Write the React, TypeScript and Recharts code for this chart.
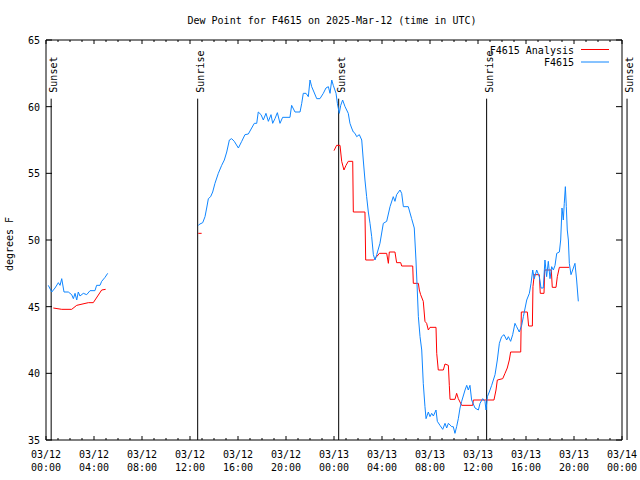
import React from 'react';
import { LineChart, Line, XAxis, YAxis, ReferenceLine } from 'recharts';

// hours since 03/12 00:00 UTC, dew point in F (null = gap in record)
const obsHours = [
  0.19, 0.48, 0.75, 1.03, 1.17, 1.31, 1.5, 1.86, 2.14, 2.28, 2.42, 2.56, 2.69, 2.83, 3.11, 3.39, 3.67, 4.08, 4.22, 4.5,
  4.64, 4.92, 5.14, 8.9,
  12.69, 12.83, 13.06, 13.25, 13.39, 13.53, 13.72, 13.89, 14.08, 14.36, 14.64, 14.86, 15.06, 15.28, 15.47, 15.69, 16.03,
  16.31, 16.58, 16.86, 17.14, 17.36, 17.56, 17.69, 17.92, 18.11, 18.33, 18.53, 18.75, 18.89, 19.08, 19.28, 19.5, 19.72,
  20.33, 20.47, 20.75, 21.17, 21.31, 21.44, 21.67, 21.86, 22.0, 22.14, 22.33, 22.56, 22.83, 23.11, 23.33, 23.53, 23.67,
  23.81, 23.94, 24.17, 24.28, 24.44, 24.56, 24.72, 24.92, 25.19, 25.33, 25.47, 25.61, 25.75, 25.89, 26.11, 26.31, 26.44,
  26.58, 26.72, 26.86, 27.0, 27.14, 27.28, 27.42, 27.56, 27.83, 28.11, 28.39, 28.67, 28.94, 29.08, 29.22, 29.5, 29.64,
  29.78, 30.19, 30.47, 30.69, 30.83, 30.94, 31.03, 31.17, 31.31, 31.44, 31.58, 31.67, 31.86, 32.0, 32.14, 32.28, 32.5,
  32.61, 32.83, 33.06, 33.25, 33.39, 33.53, 33.81, 33.94, 34.08, 34.22, 34.36, 34.5, 34.64, 34.92, 35.06, 35.19, 35.33,
  35.47, 35.75, 36.03, 36.17, 36.39, 36.58, 36.67, 36.78, 36.94, 37.14, 37.42, 37.61, 37.78, 37.97, 38.17, 38.39, 38.53,
  38.72, 38.89, 39.08, 39.22, 39.44, 39.64, 39.78, 40.06, 40.28, 40.42, 40.56, 40.69, 40.89, 41.11, 41.25, 41.44, 41.58,
  41.72, 41.86, 42.0, 42.14, 42.28, 42.42, 42.56, 42.78, 42.89, 43.0, 43.11, 43.19, 43.28, 43.36, 43.44, 43.53, 43.61,
  43.75, 43.89, 44.08, 44.22, 44.36,
];
const obsDewpt = [
  46.6, 46.1, 46.4, 46.8, 46.6, 47.1, 46.1, 46.1, 45.9, 45.6, 46.0, 45.5, 46.1, 45.8, 46.0, 45.9, 46.2, 46.2, 46.6, 46.6,
  46.9, 47.2, 47.5, null,
  51.1, 51.2, 51.3, 51.75, 52.4, 53.1, 53.25, 53.6, 54.25, 55.0, 55.6, 56.0, 56.6, 57.5, 57.6, 57.4, 56.9,
  57.4, 57.9, 57.95, 58.4, 58.75, 58.75, 59.6, 59.4, 59.0, 59.5, 58.9, 59.4, 58.75, 59.1, 59.55, 58.75, 59.2,
  59.2, 60.1, 59.6, 59.6, 60.25, 61.0, 61.0, 60.75, 62.0, 61.5, 61.1, 60.6, 60.6, 61.0, 61.4, 61.5, 61.0,
  62.0, 61.6, 61.0, 60.25, 59.5, 60.1, 60.5, 60.0, 59.5, 58.75, 58.4, 58.1, 58.0, 57.75, 57.9, 57.5, 56.0,
  54.5, 53.25, 52.1, 51.25, 50.25, 48.9, 48.5, 48.9, 49.75, 51.25, 51.4, 52.5, 53.25, 52.9, 53.4, 53.75, 53.5,
  52.5, 52.5, 51.6, 50.9, 48.5, 46.25, 44.25, 42.75, 41.75, 39.25, 37.5, 36.6, 37.1, 36.75, 37.0, 36.8, 37.25,
  36.4, 36.1, 35.8, 36.25, 35.9, 36.25, 36.0, 36.0, 35.5, 36.0, 36.6, 37.4, 37.9, 38.75, 39.1, 38.75, 39.1,
  38.0, 37.4, 37.25, 37.75, 38.1, 37.9, 37.25, 38.25, 38.6, 39.1, 39.9, 41.0, 42.25, 42.75, 42.9, 42.5, 42.75,
  42.4, 42.9, 43.75, 43.5, 43.1, 43.6, 44.25, 45.5, 46.0, 46.75, 47.75, 47.1, 47.75, 47.25, 46.4, 46.4, 48.5,
  47.25, 48.4, 47.1, 48.0, 47.75, 48.1, 49.0, 49.1, 50.0, 52.4, 51.5, 52.75, 54.0, 52.5, 50.75, 50.0, 48.25,
  47.4, 47.75, 48.25, 47.0, 45.4,
];

const anaHours = [
  0.61, 1.31, 2.14, 2.56, 3.53, 3.94, 4.64, 4.97, 8.9,
  12.69, 12.97, 18.0,
  24.0, 24.22, 24.5, 24.64, 24.83, 25.0, 25.19, 25.56, 25.61, 26.58, 26.64, 27.28, 27.56, 27.78, 28.39, 28.53, 28.61,
  29.08, 29.22, 29.56, 29.64, 30.56, 30.61, 31.03, 31.11, 31.22, 31.44, 31.58, 31.72, 31.86, 32.0, 32.5, 32.56, 32.69,
  33.11, 33.25, 33.53, 33.61, 33.67, 34.08, 34.22, 34.36, 34.64, 35.56, 35.61, 37.33, 37.5, 37.61, 38.06, 38.25, 38.44,
  38.61, 38.72, 39.56, 39.61, 40.11, 40.22, 40.53, 40.58, 40.69, 41.11, 41.19, 41.5, 41.56, 42.11, 42.19, 42.5, 42.61,
  42.78, 43.61,
];
const anaDewpt = [
  44.9, 44.8, 44.8, 45.1, 45.3, 45.3, 46.25, 46.3, null,
  50.5, 50.5, null,
  56.7, 57.1, 57.1, 55.9, 55.25, 55.6, 55.9, 55.9, 52.1, 52.1, 48.5, 48.5, 48.75, 49.0, 49.0, 48.25, 49.1,
  49.1, 48.3, 48.3, 48.05, 48.05, 46.75, 46.75, 46.25, 45.9, 45.4, 43.9, 43.75, 43.25, 43.45, 43.45, 41.5, 40.25,
  40.25, 40.7, 40.6, 39.1, 38.05, 38.05, 38.5, 38.1, 37.6, 37.6, 38.0, 38.0, 38.75, 39.5, 39.6, 40.0, 40.4,
  41.0, 41.6, 41.6, 44.6, 44.6, 43.55, 43.55, 46.5, 47.4, 47.4, 46.0, 46.0, 47.75, 47.75, 46.45, 46.45, 47.25,
  47.95, 47.95,
];

const sunHours = [0.43, 12.64, 24.39, 36.72, 48.42];
const sunLabels = ['Sunset', 'Sunrise', 'Sunset', 'Sunrise', 'Sunset'];

const yTicks = [35, 40, 45, 50, 55, 60, 65];
const hourTicks = Array.from({ length: 49 }, (_, i) => i);

const FONT = '"DejaVu Sans Mono", monospace';

const obsData = obsHours.map((h, i) => ({ h, v: obsDewpt[i] }));
const anaData = anaHours.map((h, i) => ({ h, v: anaDewpt[i] }));

function dayLabel(h: number) {
  const day = h < 24 ? '03/12' : h < 48 ? '03/13' : '03/14';
  const hh = String(h % 24).padStart(2, '0');
  return [day, hh + ':00'];
}

function BottomTick(props: any) {
  const { x, y, payload } = props;
  const major = payload.value % 4 === 0;
  const [d, t] = dayLabel(payload.value);
  return (
    <g>
      <line x1={x} y1={y} x2={x} y2={y - (major ? 4 : 2)} stroke="#000" />
      {major && (
        <text fontFamily={FONT} fontSize={10} fill="#000" textAnchor="middle">
          <tspan x={x} y={y + 17.5}>{d}</tspan>
          <tspan x={x} y={y + 30.5}>{t}</tspan>
        </text>
      )}
    </g>
  );
}

function TopTick(props: any) {
  const { x, y, payload } = props;
  const major = payload.value % 4 === 0;
  return <line x1={x} y1={y} x2={x} y2={y + (major ? 4 : 2)} stroke="#000" />;
}

function LeftTick(props: any) {
  const { x, y, payload } = props;
  return (
    <g>
      <line x1={x} y1={y} x2={x + 6} y2={y} stroke="#000" />
      <text x={x - 6} y={y + 4} fontFamily={FONT} fontSize={10} fill="#000" textAnchor="end">
        {payload.value}
      </text>
    </g>
  );
}

function RightTick(props: any) {
  const { x, y } = props;
  return <line x1={x} y1={y} x2={x - 6} y2={y} stroke="#000" />;
}

function SunLabel(text: string) {
  return (props: any) => {
    const vb = props.viewBox || {};
    const lx = vb.x + 6;
    const ly = vb.y - 6;
    return (
      <text x={lx} y={ly} transform={`rotate(-90 ${lx} ${ly})`} fontFamily={FONT} fontSize={10} fill="#000">
        {text}
      </text>
    );
  };
}

export default function App() {
  return (
    <div style={{ position: 'absolute', left: 0, top: 0, width: 640, height: 480, background: '#fff' }}>
      <LineChart width={640} height={480} margin={{ top: 10, right: 0, bottom: 10, left: 6 }}>
        <XAxis
          xAxisId={0}
          type="number"
          dataKey="h"
          domain={[0, 48]}
          ticks={hourTicks}
          interval={0}
          height={30}
          tickSize={0}
          tickMargin={0}
          tickLine={false}
          tick={<BottomTick />}
          axisLine={{ stroke: '#000' }}
          allowDataOverflow
        />
        <XAxis
          xAxisId="top"
          orientation="top"
          type="number"
          dataKey="h"
          domain={[0, 48]}
          ticks={hourTicks}
          interval={0}
          height={30}
          tickSize={0}
          tickMargin={0}
          tickLine={false}
          tick={<TopTick />}
          axisLine={{ stroke: '#000' }}
          allowDataOverflow
        />
        <YAxis
          yAxisId={0}
          type="number"
          domain={[35, 65]}
          ticks={yTicks}
          interval={0}
          width={40}
          tickSize={0}
          tickMargin={0}
          tickLine={false}
          tick={<LeftTick />}
          axisLine={{ stroke: '#000' }}
          allowDataOverflow
        />
        <YAxis
          yAxisId="right"
          orientation="right"
          type="number"
          domain={[35, 65]}
          ticks={yTicks}
          interval={0}
          width={18}
          tickSize={0}
          tickMargin={0}
          tickLine={false}
          tick={<RightTick />}
          axisLine={{ stroke: '#000' }}
          allowDataOverflow
        />
        {sunHours.map((h, i) => (
          <ReferenceLine
            key={i}
            segment={[
              { x: h, y: 60.6 },
              { x: h, y: 35 },
            ]}
            stroke="#000"
            strokeWidth={1}
            ifOverflow="visible"
            label={SunLabel(sunLabels[i])}
          />
        ))}
        <Line
          data={anaData}
          dataKey="v"
          name="F4615 Analysis"
          type="linear"
          stroke="#ff0000"
          strokeWidth={1}
          dot={false}
          connectNulls={false}
          isAnimationActive={false}
        />
        <Line
          data={obsData}
          dataKey="v"
          name="F4615"
          type="linear"
          stroke="#0f86ff"
          strokeWidth={1}
          dot={false}
          connectNulls={false}
          isAnimationActive={false}
        />
      </LineChart>
      <svg
        width={640}
        height={480}
        style={{ position: 'absolute', left: 0, top: 0, pointerEvents: 'none' }}
      >
        <text x={332} y={24} textAnchor="middle" fontFamily={FONT} fontSize={10} fill="#000">
          Dew Point for F4615 on 2025-Mar-12 (time in UTC)
        </text>
        <text
          x={13}
          y={244}
          transform="rotate(-90 13 244)"
          textAnchor="middle"
          fontFamily={FONT}
          fontSize={10}
          fill="#000"
        >
          degrees F
        </text>
        <text x={574} y={54} textAnchor="end" fontFamily={FONT} fontSize={10} fill="#000">
          F4615 Analysis
        </text>
        <line x1={581} y1={49.5} x2={609} y2={49.5} stroke="#ff0000" />
        <text x={574} y={66} textAnchor="end" fontFamily={FONT} fontSize={10} fill="#000">
          F4615
        </text>
        <line x1={581} y1={62} x2={609} y2={62} stroke="#0f86ff" />
      </svg>
    </div>
  );
}
